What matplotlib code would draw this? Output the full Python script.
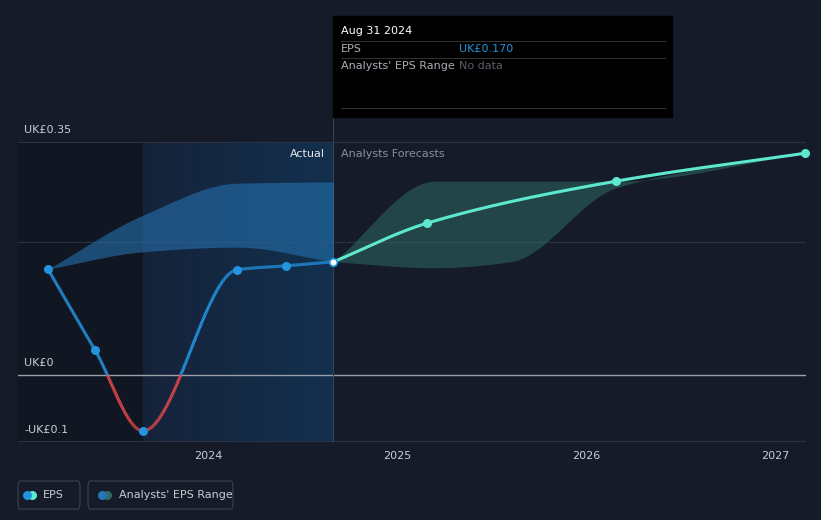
import numpy as np
import matplotlib
matplotlib.use("Agg")
import matplotlib.pyplot as plt
from matplotlib.collections import LineCollection

# data
act_x = [2023.153, 2023.402, 2023.656, 2024.153, 2024.413, 2024.664]
act_y = [0.159, 0.0375, -0.084, 0.158, 0.164, 0.170]
fc_x = [2024.664, 2025.159, 2026.159, 2027.159]
fc_y = [0.170, 0.228, 0.291, 0.333]
ra_x = [2023.153, 2023.656, 2024.153, 2024.664]
ra_hi = [0.159, 0.240, 0.288, 0.290]
ra_lo = [0.159, 0.185, 0.192, 0.170]
rf_x = [2024.664, 2025.2, 2025.6, 2026.159, 2027.159]
rf_hi = [0.170, 0.291, 0.291, 0.291, 0.333]
rf_lo = [0.170, 0.161, 0.170, 0.281, 0.333]
xticks = [2024, 2025, 2026, 2027]

def pchip(x, y, n=300):
    x = np.asarray(x, float); y = np.asarray(y, float)
    h = np.diff(x); d = np.diff(y) / h
    m = np.zeros_like(y)
    for k in range(1, len(x) - 1):
        if d[k-1] * d[k] > 0:
            w1 = 2*h[k] + h[k-1]; w2 = h[k] + 2*h[k-1]
            m[k] = (w1 + w2) / (w1/d[k-1] + w2/d[k])
    m[0] = d[0]; m[-1] = d[-1]
    xs = np.linspace(x[0], x[-1], n)
    idx = np.clip(np.searchsorted(x, xs) - 1, 0, len(h) - 1)
    t = (xs - x[idx]) / h[idx]
    h00 = 2*t**3 - 3*t**2 + 1; h10 = t**3 - 2*t**2 + t
    h01 = -2*t**3 + 3*t**2; h11 = t**3 - t**2
    ys = h00*y[idx] + h10*h[idx]*m[idx] + h01*y[idx+1] + h11*h[idx]*m[idx+1]
    return xs, ys

BG = "#151b28"
fig = plt.figure(figsize=(8.21, 5.2), dpi=100, facecolor=BG)
ax = fig.add_axes([0, 0, 1, 1], facecolor=BG)
X0 = 2024 - 208/189; X1 = 2024 + 613/189
Y0 = -145/666; Y1 = 375/666
ax.set_xlim(X0, X1); ax.set_ylim(Y0, Y1); ax.axis("off")
px = lambda p: 2024 + (p - 208)/189
py = lambda p: (375 - p)/666

left = px(18); right = px(805)
ybot = py(441)
# shaded past region
ax.fill_between([left, px(143)], ybot, py(142), color="#111722", zorder=0)
grad = np.linspace(0, 1, 256).reshape(1, -1)
ax.imshow(grad, extent=[px(143), act_x[-1], ybot, py(142)], aspect="auto",
          cmap=matplotlib.colors.LinearSegmentedColormap.from_list("g", ["#16233a", "#12304e"]),
          zorder=0.5)
# grid
for v in [0.35, 0.2]:
    ax.plot([left, right], [v, v], color="#2c3240", lw=0.8, zorder=1)
ax.plot([left, right], [0, 0], color="#9aa0a8", lw=1, zorder=1)
ax.plot([left, right], [ybot, ybot], color="#2c3240", lw=0.8, zorder=1)
ax.plot([act_x[-1]]*2, [ybot, py(16)], color="#3a4250", lw=0.8, zorder=1)

# ranges
xs, hi = pchip(ra_x, ra_hi); _, lo = pchip(ra_x, ra_lo)
ax.fill_between(xs, lo, hi, color="#2677b8", alpha=0.55, lw=0, zorder=2)
xs, hi = pchip(rf_x, rf_hi); _, lo = pchip(rf_x, rf_lo)
ax.fill_between(xs, lo, hi, color="#2e6b63", alpha=0.55, lw=0, zorder=2)

# actual line
xs, ys = pchip(act_x, act_y, 600)
pts = np.array([xs, ys]).T.reshape(-1, 1, 2)
segs = np.concatenate([pts[:-1], pts[1:]], axis=1)
cols = ["#e2474b" if (a+b)/2 < 0 else "#2394df" for a, b in zip(ys[:-1], ys[1:])]
ax.add_collection(LineCollection(segs, colors=cols, lw=2.2, zorder=3))
ax.scatter(act_x[:-1], act_y[:-1], s=30, color="#2394df", zorder=4)
xs, ys = pchip(fc_x, fc_y)
ax.plot(xs, ys, color="#5ee8d0", lw=2.2, zorder=3)
ax.scatter(fc_x[1:], fc_y[1:], s=30, color="#5ee8d0", zorder=4)
ax.scatter([act_x[-1]], [act_y[-1]], s=30, color="white", edgecolor="#2394df", lw=1.2, zorder=5)

tc = "#c9cdd3"
ax.text(px(24), py(130), "UK£0.35", color=tc, fontsize=8, va="center")
ax.text(px(24), py(363), "UK£0", color=tc, fontsize=8, va="center")
ax.text(px(24), py(430), "-UK£0.1", color=tc, fontsize=8, va="center")
for t in xticks:
    ax.text(t, py(456), str(t), color=tc, fontsize=8, ha="center", va="center")
ax.text(px(325), py(154), "Actual", color="#e6e8eb", fontsize=8, ha="right", va="center")
ax.text(px(341), py(154), "Analysts Forecasts", color="#8a909a", fontsize=8, va="center")

# tooltip
ax.fill_between([px(333), px(672)], py(117), py(16), color="black", zorder=6)
ax.text(px(341), py(31), "Aug 31 2024", color="white", fontsize=8, va="center", zorder=7)
for yy in [41, 58, 108]:
    ax.plot([px(341), px(665)], [py(yy)]*2, color="#333", lw=0.7, zorder=7)
ax.text(px(341), py(49), "EPS", color="#aab0b8", fontsize=8, va="center", zorder=7)
ax.text(px(459), py(49), "UK£0.170", color="#2394df", fontsize=8, va="center", zorder=7)
ax.text(px(341), py(66), "Analysts' EPS Range", color="#aab0b8", fontsize=8, va="center", zorder=7)
ax.text(px(459), py(66), "No data", color="#5a606a", fontsize=8, va="center", zorder=7)

# legend
from matplotlib.patches import FancyBboxPatch
for (x0, x1) in [(18, 80), (88, 233)]:
    ax.add_patch(FancyBboxPatch((px(x0), py(509)), px(x1)-px(x0), py(481)-py(509),
                 boxstyle="round,pad=0,rounding_size=0.01", fc="none", ec="#3a4250", lw=0.8))
ax.scatter([px(32)], [py(495)], s=30, color="#5ee8d0", zorder=8)
ax.scatter([px(27)], [py(495)], s=30, color="#2394df", zorder=8)
ax.text(px(43), py(495), "EPS", color=tc, fontsize=8, va="center")
ax.scatter([px(107)], [py(495)], s=30, color="#2e6b63", zorder=8)
ax.scatter([px(102)], [py(495)], s=30, color="#2677b8", zorder=8)
ax.text(px(119), py(495), "Analysts' EPS Range", color=tc, fontsize=8, va="center")

fig.savefig("out.png", dpi=100, facecolor=BG)
